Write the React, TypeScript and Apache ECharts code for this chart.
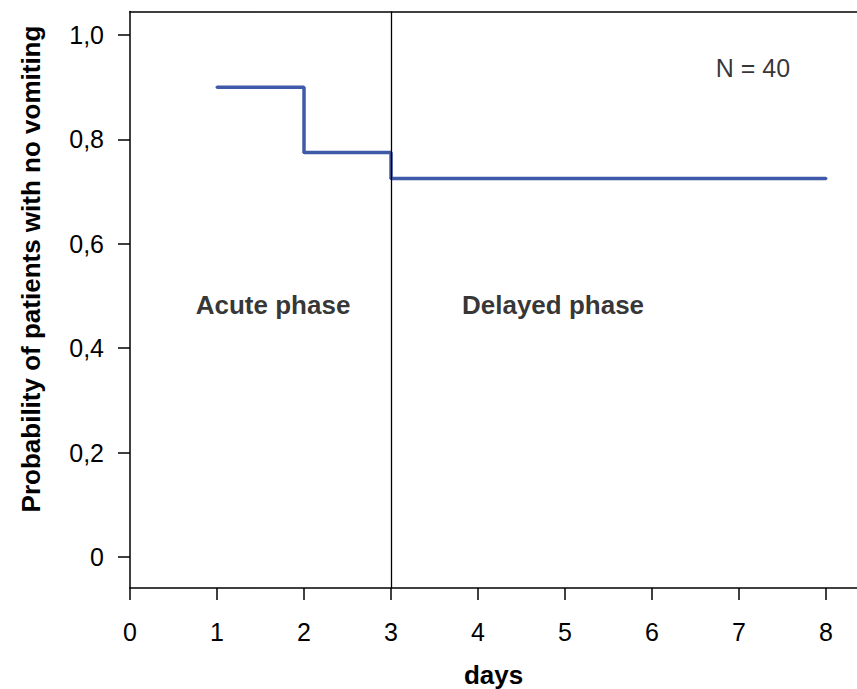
import React, { useEffect, useRef } from "react";
import * as echarts from "echarts";

const days: number[] = [1, 2, 3, 8];
const probability: number[] = [0.9, 0.775, 0.725, 0.725];
const yTicks: number[] = [0, 0.2, 0.4, 0.6, 0.8, 1.0];
const xTicks: number[] = [0, 1, 2, 3, 4, 5, 6, 7, 8];
const phaseBoundary = 3;
const phaseLabels = [
  { text: "Acute phase", x: 1.644, y: 0.483 },
  { text: "Delayed phase", x: 4.862, y: 0.483 },
];
const nText = "N = 40";
const nPos: number[] = [7.16, 0.937];

const FONT = "'Liberation Sans', Arial, sans-serif";

export default function App() {
  const ref = useRef<HTMLDivElement>(null);
  useEffect(() => {
    if (!ref.current) return;
    const chart = echarts.init(ref.current, null, { renderer: "svg" });
    const series: any[] = [
      {
        type: "line",
        step: "end",
        data: days.map((d, i) => [d, probability[i]]),
        lineStyle: { color: "#3f5aa8", width: 3.5 },
        itemStyle: { color: "#3f5aa8" },
        symbol: "circle",
        symbolSize: 3,
        markLine: {
          silent: true,
          symbol: ["none", "none"],
          label: { show: false },
          lineStyle: { color: "#000", width: 1.3, type: "solid" },
          data: [{ xAxis: phaseBoundary }],
        },
      },
      {
        type: "scatter",
        data: phaseLabels.map((p) => [p.x, p.y]),
        symbolSize: 0,
        label: {
          show: true,
          position: "inside",
          formatter: (p: any) => phaseLabels[p.dataIndex].text,
          fontFamily: FONT,
          fontWeight: "bold",
          fontSize: 26,
          color: "#000",
        },
      },
      {
        type: "scatter",
        data: [nPos],
        symbolSize: 0,
        label: {
          show: true,
          position: "inside",
          formatter: nText,
          fontFamily: FONT,
          fontSize: 25,
          color: "#000",
        },
      },
    ];
    chart.setOption({
      animation: false,
      backgroundColor: "#fff",
      grid: { left: 130, right: 0, top: 11.5, bottom: 101, outerBoundsMode: "none", containLabel: false },
      xAxis: [
        {
          type: "value",
          min: 0,
          max: 8.356,
          name: "days",
          nameLocation: "middle",
          nameGap: 74,
          nameTextStyle: { fontFamily: FONT, fontWeight: "bold", fontSize: 26, color: "#000" },
          splitLine: { show: false },
          axisLine: { show: true, onZero: false, lineStyle: { color: "#000", width: 1.5 } },
          axisTick: { show: true, length: 12, customValues: xTicks, lineStyle: { color: "#000", width: 1.5 } },
          axisLabel: {
            customValues: xTicks,
            margin: 31,
            fontFamily: FONT,
            fontSize: 25,
            color: "#000",
          },
        },
        {
          type: "value",
          position: "top",
          min: 0,
          max: 8.356,
          splitLine: { show: false },
          axisLine: { show: true, onZero: false, lineStyle: { color: "#000", width: 1.5 } },
          axisTick: { show: false },
          axisLabel: { show: false },
        },
      ],
      yAxis: {
        type: "value",
        min: -0.0594,
        max: 1.045,
        splitLine: { show: false },
        axisLine: { show: true, onZero: false, lineStyle: { color: "#000", width: 1.5 } },
        axisTick: { show: true, length: 12, customValues: yTicks, lineStyle: { color: "#000", width: 1.5 } },
        axisLabel: {
          customValues: yTicks,
          margin: 26,
          fontFamily: FONT,
          fontSize: 25,
          color: "#000",
          formatter: (v: number) => (v === 0 ? "0" : v.toFixed(1).replace(".", ",")),
        },
      },
      graphic: [
        {
          type: "text",
          x: 31,
          y: 269,
          rotation: Math.PI / 2,
          style: {
            text: "Probability of patients with no vomiting",
            font: `bold 26px ${FONT}`,
            fill: "#000",
            align: "center",
            verticalAlign: "middle",
          },
        },
      ],
      series,
    });
    return () => chart.dispose();
  }, []);
  return (
    <div
      ref={ref}
      style={{ position: "fixed", left: 0, top: 0, width: 857, height: 689 }}
    />
  );
}
